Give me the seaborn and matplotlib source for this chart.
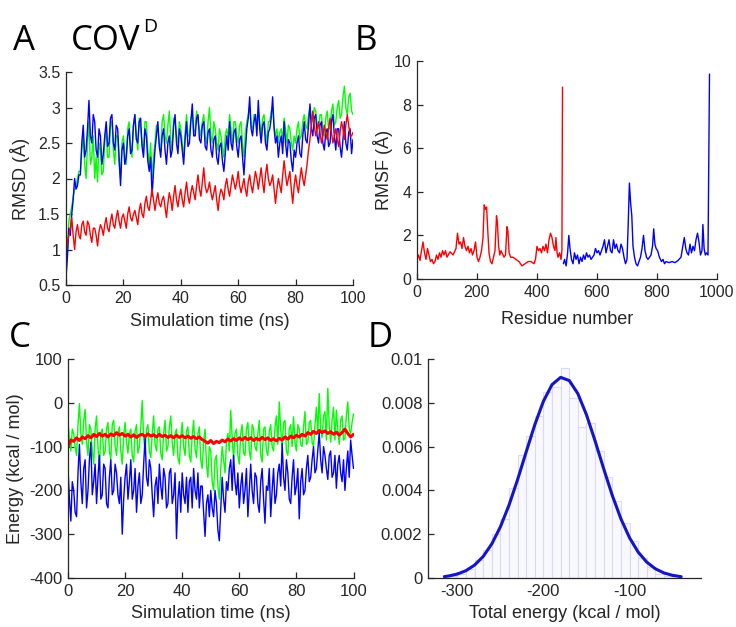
import numpy as np
import pandas as pd
import matplotlib
matplotlib.use('Agg')
import matplotlib.pyplot as plt
import seaborn as sns
from matplotlib.ticker import FuncFormatter

sns.set_theme(style='ticks')
plt.rcParams['font.family'] = ['Liberation Sans', 'DejaVu Sans']

# ---------------- Panel A: RMSD ----------------
# values at whole ns (0..100) and at the half-ns points in between (0.5..99.5)
time_ns = list(range(0, 101))
time_mid = [t + 0.5 for t in range(0, 100)]
rmsd_green = [0.7, 1.4, 1.6, 1.85, 2.0, 2.1, 2.6, 2.0, 2.8, 2.3, 2.0, 1.95, 2.4, 2.1, 2.7, 2.3, 2.8, 2.2, 2.6, 2.0,
              2.6, 2.2, 2.8, 2.3, 2.9, 2.4, 2.7, 2.35, 2.8, 2.2, 2.0, 2.5, 2.7, 2.4, 2.9, 2.5, 2.95, 2.4, 2.8, 2.5,
              2.7, 2.3, 2.9, 2.6, 2.9, 2.7, 2.8, 2.6, 2.9, 2.5, 3.0, 2.5, 2.7, 2.4, 2.6, 2.3, 2.7, 2.9, 2.5, 2.8,
              2.5, 2.8, 2.3, 2.8, 3.0, 2.7, 2.9, 2.95, 2.6, 2.9, 2.5, 2.8, 3.0, 2.6, 2.5, 2.7, 2.85, 2.5, 2.7, 2.4,
              2.5, 2.8, 2.6, 2.9, 2.7, 3.0, 2.8, 2.95, 2.7, 2.9, 2.6, 2.95, 2.7, 3.05, 2.8, 3.1, 2.9, 3.3, 2.9, 3.2,
              2.9]
rmsd_green_mid = [1.0, 1.5, 1.75, 1.9, 2.1, 2.4, 2.2, 2.5, 2.2, 2.6, 2.3, 2.5, 2.05, 2.5, 2.3, 2.75, 2.4, 2.6, 2.2, 2.5,
                  2.35, 2.7, 2.45, 2.75, 2.6, 2.85, 2.5, 2.8, 2.4, 2.5, 2.3, 2.75, 2.5, 2.8, 2.6, 2.75, 2.55, 2.85, 2.6, 2.8,
                  2.5, 2.65, 2.6, 2.85, 2.65, 2.95, 2.7, 2.8, 2.6, 2.8, 2.6, 2.8, 2.5, 2.7, 2.45, 2.6, 2.55, 2.7, 2.8, 2.6,
                  2.75, 2.5, 2.65, 2.9, 2.75, 2.9, 2.7, 2.8, 2.85, 2.65, 2.8, 2.95, 2.75, 2.7, 2.65, 2.55, 2.7, 2.75, 2.5, 2.6,
                  2.7, 2.55, 2.8, 2.75, 2.9, 2.85, 3.0, 2.75, 2.9, 2.7, 2.85, 2.7, 2.95, 2.75, 3.0, 2.85, 3.15, 3.0, 3.15, 2.95]
rmsd_blue = [0.6, 1.3, 1.5, 2.0, 1.9, 2.05, 2.75, 2.4, 3.1, 2.5, 2.8, 2.3, 2.6, 2.35, 2.8, 2.5, 2.9, 2.4, 2.7, 1.9,
             2.5, 2.3, 2.7, 2.4, 2.9, 2.5, 2.85, 2.3, 2.6, 2.1, 1.75, 2.4, 2.8, 2.3, 2.7, 2.2, 2.6, 2.4, 2.9, 2.35,
             2.6, 2.2, 2.8, 2.5, 3.05, 2.6, 2.9, 2.5, 2.8, 2.4, 2.7, 2.3, 2.6, 2.2, 2.5, 2.1, 2.6, 2.8, 2.4, 2.7,
             2.3, 2.6, 2.05, 2.7, 3.15, 2.6, 2.9, 3.1, 2.5, 2.8, 2.4, 2.7, 3.15, 2.5, 2.3, 2.6, 2.8, 2.3, 2.5, 2.1,
             2.3, 2.6, 2.3, 2.8, 2.5, 3.05, 2.6, 2.9, 2.5, 2.8, 2.4, 2.7, 2.5, 2.9, 2.4, 2.7, 2.3, 2.8, 2.4, 2.7,
             2.55]
rmsd_blue_mid = [0.9, 1.2, 1.7, 1.85, 2.05, 2.5, 2.3, 2.7, 2.6, 2.9, 2.4, 2.7, 2.2, 2.6, 2.45, 2.85, 2.5, 2.75, 2.3, 2.4,
                 2.2, 2.6, 2.35, 2.75, 2.55, 2.8, 2.45, 2.7, 2.25, 2.3, 2.1, 2.6, 2.45, 2.6, 2.4, 2.5, 2.3, 2.75, 2.5, 2.7,
                 2.4, 2.55, 2.45, 2.8, 2.6, 2.85, 2.55, 2.75, 2.45, 2.65, 2.4, 2.55, 2.3, 2.45, 2.25, 2.35, 2.4, 2.5, 2.65, 2.45,
                 2.55, 2.3, 2.4, 2.85, 2.7, 2.8, 2.6, 2.7, 2.75, 2.5, 2.65, 2.85, 2.7, 2.6, 2.5, 2.35, 2.5, 2.55, 2.25, 2.4,
                 2.5, 2.35, 2.6, 2.55, 2.75, 2.7, 2.85, 2.6, 2.75, 2.5, 2.65, 2.45, 2.8, 2.6, 2.7, 2.45, 2.55, 2.5, 2.65, 2.35]
rmsd_red = [1.0, 1.2, 1.45, 1.0, 1.35, 1.15, 1.4, 1.2, 1.35, 1.1, 1.3, 1.05, 1.35, 1.2, 1.45, 1.25, 1.5, 1.3, 1.55, 1.3,
            1.5, 1.3, 1.6, 1.4, 1.55, 1.35, 1.65, 1.45, 1.75, 1.55, 1.85, 1.55, 1.8, 1.6, 1.75, 1.45, 1.8, 1.55, 1.9, 1.6,
            1.85, 1.6, 1.95, 1.65, 1.9, 1.7, 2.05, 1.75, 2.15, 1.8, 1.95, 1.7, 1.9, 1.55, 1.85, 1.7, 2.0, 1.75, 2.05, 1.85,
            2.1, 1.8, 2.0, 1.75, 2.05, 1.8, 2.1, 1.85, 2.15, 1.8, 2.2, 1.9, 2.05, 1.65, 2.0, 1.8, 2.25, 1.9, 2.1, 1.65,
            2.05, 1.8, 2.15, 1.9, 2.2, 2.55, 2.95, 2.6, 2.8, 2.5, 2.75, 2.55, 2.85, 2.5, 2.7, 2.45, 2.8, 2.55, 2.9, 2.6,
            2.65]
rmsd_red_mid = [1.1, 1.3, 1.2, 1.25, 1.2, 1.35, 1.25, 1.4, 1.2, 1.3, 1.2, 1.25, 1.3, 1.35, 1.3, 1.4, 1.35, 1.45, 1.4, 1.45,
                1.4, 1.5, 1.45, 1.5, 1.45, 1.55, 1.5, 1.65, 1.6, 1.7, 1.7, 1.7, 1.65, 1.7, 1.6, 1.65, 1.7, 1.75, 1.7, 1.75,
                1.7, 1.8, 1.75, 1.8, 1.8, 1.9, 1.85, 1.95, 1.9, 1.85, 1.8, 1.8, 1.7, 1.75, 1.8, 1.9, 1.85, 1.9, 1.95, 1.95,
                1.9, 1.9, 1.85, 1.95, 1.9, 1.95, 2.0, 2.0, 1.95, 2.05, 2.0, 1.95, 1.85, 1.85, 1.9, 2.05, 2.05, 2.0, 1.85, 1.9,
                1.9, 2.0, 2.0, 2.05, 2.4, 2.75, 2.75, 2.7, 2.65, 2.6, 2.65, 2.7, 2.65, 2.6, 2.55, 2.65, 2.7, 2.75, 2.75, 2.6]

# ---------------- Panel B: RMSF per residue ----------------
res_red = [0, 5, 10, 15, 20, 25, 30, 35, 40, 45, 50, 55, 60, 65, 70, 75, 80, 85, 90, 95, 100, 110, 120, 130, 135,
           140, 145, 150, 155, 160, 165, 170, 175, 180, 185, 190, 195, 200, 205, 210, 215, 220, 224, 228, 232, 236,
           240, 245, 250, 255, 260, 265, 268, 272, 276, 280, 290, 295, 300, 303, 307, 312, 320, 330, 340, 350, 360,
           370, 380, 390, 395, 400, 405, 410, 415, 420, 425, 430, 435, 440, 445, 450, 455, 460, 463, 467, 470, 475,
           480, 483, 485]
rmsf_red = [0.9, 1.1, 0.85, 1.3, 1.7, 1.2, 0.9, 1.4, 1.1, 0.8, 0.9, 0.7, 0.8, 1.1, 0.9, 1.2, 1.0, 1.3, 1.1, 1.3, 1.0,
            1.25, 1.1, 1.4, 2.1, 1.6, 1.7, 1.4, 1.9, 1.5, 1.3, 1.5, 1.2, 1.4, 1.1, 1.3, 1.7, 1.0, 0.8, 1.0, 1.3, 1.9,
            3.4, 3.2, 3.3, 2.2, 1.2, 0.8, 0.7, 1.0, 1.3, 2.9, 2.6, 1.5, 1.1, 1.3, 1.0, 1.1, 2.4, 2.2, 1.2, 1.0, 1.0,
            0.9, 0.8, 0.6, 0.7, 0.8, 0.8, 0.7, 0.9, 1.5, 1.3, 1.4, 1.2, 1.5, 1.3, 1.6, 1.2, 1.8, 2.1, 1.9, 1.5, 1.3,
            1.9, 1.2, 1.0, 1.2, 0.9, 1.3, 8.8]
res_blue = [488, 492, 497, 502, 506, 510, 515, 520, 525, 530, 535, 540, 545, 550, 555, 560, 565, 570, 575, 580, 585,
            590, 595, 600, 605, 610, 615, 620, 625, 630, 635, 640, 645, 650, 655, 660, 665, 670, 675, 680, 685, 690,
            695, 700, 704, 708, 712, 716, 720, 725, 730, 735, 740, 745, 750, 755, 760, 765, 770, 775, 780, 785, 789,
            793, 797, 802, 808, 815, 820, 825, 830, 840, 850, 860, 870, 880, 886, 891, 896, 900, 905, 910, 915, 920,
            925, 930, 935, 940, 945, 950, 953, 957, 961, 965, 970, 975]
rmsf_blue = [0.7, 0.9, 0.6, 1.2, 2.0, 1.4, 0.9, 0.7, 1.2, 0.9, 1.1, 0.7, 1.0, 0.8, 1.1, 0.9, 1.2, 1.0, 1.1, 0.9, 1.0,
             1.1, 1.4, 1.2, 1.3, 1.1, 1.3, 1.5, 1.8, 1.2, 1.5, 1.8, 1.3, 1.2, 1.8, 1.4, 1.6, 1.3, 1.2, 1.6, 1.4, 1.0,
             0.7, 0.9, 2.5, 4.4, 3.5, 2.9, 1.5, 1.0, 0.7, 0.6, 0.8, 1.0, 1.4, 2.0, 1.3, 1.0, 0.9, 1.0, 1.1, 1.5, 2.3,
             1.6, 1.4, 1.3, 1.0, 0.8, 0.9, 0.7, 0.8, 0.75, 0.8, 0.75, 0.85, 1.0, 1.5, 1.9, 1.4, 1.2, 1.1, 1.6, 1.2,
             1.5, 1.3, 1.8, 2.1, 1.7, 1.1, 1.3, 2.5, 1.4, 1.1, 1.2, 1.1, 9.4]

# ---------------- Panel C: energies ----------------
energy_green = [-45, -110, -70, -120, -2, -95, -15, -120, -60, -140, -30, -150, -60, -110, -45, -130, -40, -120, -55, -140,
                -45, -115, -60, -135, -50, -100, 5, -110, -50, -125, -30, -110, -55, -130, -40, -100, -30, -120, -60, -140,
                -45, -120, -55, -135, -40, -125, -55, -150, -60, -170, -110, -200, -120, -220, -100, -160, -70, -17, -130, -60,
                -140, -50, -120, -45, -130, -60, -110, -40, -135, -55, -120, -50, -110, -30, 2, -100, -40, -120, -50, -32,
                -110, -60, -100, -20, -90, -40, -100, -10, 21, -80, -20, 33, -90, -10, -17, -95, -30, -80, 2, -70,
                -25]
energy_green_mid = [-80, -60, -100, -50, -70, -40, -90, -50, -110, -60, -100, -70, -120, -60, -110, -50, -100, -70, -110, -75,
                    -90, -70, -120, -65, -115, -55, -80, -60, -110, -70, -95, -60, -115, -70, -110, -55, -90, -70, -125, -80,
                    -100, -65, -120, -75, -105, -70, -130, -90, -140, -100, -180, -130, -190, -150, -130, -90, -110, -80, -70, -120,
                    -70, -115, -60, -110, -50, -100, -70, -120, -60, -110, -65, -100, -55, -95, -60, -45, -110, -60, -100, -90,
                    -50, -95, -55, -95, -45, -90, -50, -70, -60, -30, -85, -50, -40, -85, -60, -40, -85, -30, -60, -45]
energy_blue = [-150, -270, -200, -260, -95, -230, -130, -200, -90, -180, -230, -120, -210, -150, -240, -130, -200, -160, -230, -300,
               -170, -220, -130, -200, -250, -160, -210, -80, -190, -150, -260, -170, -140, -220, -170, -230, -150, -210, -310, -180,
               -160, -230, -250, -170, -150, -220, -240, -190, -305, -210, -200, -260, -230, -315, -170, -250, -200, -130, -120, -210,
               -240, -160, -200, -260, -140, -230, -170, -250, -150, -275, -200, -260, -150, -210, -140, -93, -200, -160, -230, -130,
               -190, -265, -150, -200, -120, -170, -100, -150, -67, -160, -120, -175, -110, -160, -195, -120, -180, -200, -110, -85,
               -150]
energy_blue_mid = [-220, -180, -250, -160, -180, -150, -240, -130, -210, -140, -170, -220, -140, -230, -170, -210, -140, -210, -170, -220,
                   -140, -180, -220, -150, -190, -230, -140, -170, -130, -210, -190, -230, -190, -150, -240, -160, -230, -160, -220, -250,
                   -210, -170, -180, -240, -200, -160, -190, -250, -230, -260, -240, -200, -290, -240, -220, -180, -150, -200, -180, -160,
                   -190, -230, -150, -200, -200, -160, -230, -180, -220, -190, -150, -200, -230, -160, -190, -170, -130, -220, -170, -210,
                   -150, -180, -210, -150, -180, -130, -160, -110, -130, -100, -150, -120, -170, -120, -140, -160, -130, -150, -170, -120]
energy_red = [-100, -85, -88, -80, -86, -78, -82, -75, -80, -72, -77, -70, -76, -72, -78, -71, -75, -68, -74, -70,
              -76, -72, -78, -73, -79, -74, -72, -77, -71, -76, -73, -78, -72, -77, -74, -79, -75, -80, -74, -79,
              -75, -80, -76, -81, -77, -82, -78, -84, -88, -92, -86, -93, -88, -91, -85, -89, -83, -87, -82, -86,
              -80, -85, -79, -84, -80, -86, -81, -85, -79, -84, -80, -86, -82, -87, -81, -85, -78, -83, -76, -80,
              -74, -78, -72, -76, -68, -72, -65, -70, -63, -68, -64, -70, -66, -72, -67, -74, -68, -60, -70, -78,
              -72]

# ---------------- Panel D: histogram + fitted curve ----------------
hist_bin_left = [-310, -300, -290, -280, -270, -260, -250, -240, -230, -220, -210, -200, -190, -180, -170, -160, -150,
                 -140, -130, -120, -110, -100, -90, -80, -70, -60]
hist_density = [0.0001, 0.0002, 0.0004, 0.0008, 0.0013, 0.0020, 0.0027, 0.0041, 0.0056, 0.0065, 0.0074, 0.0085, 0.0087,
                0.0096, 0.0082, 0.0069, 0.0071, 0.0058, 0.0046, 0.0035, 0.0025, 0.0017, 0.0009, 0.0005, 0.0002, 0.0001]
bin_width = 10
fit_x = [-315, -310, -300, -290, -280, -270, -260, -250, -240, -230, -220, -210, -200, -190, -180, -170, -160, -150,
         -140, -130, -120, -110, -100, -90, -80, -70, -60, -50, -40]
fit_y = [0.000064, 0.000092, 0.000180, 0.000333, 0.000587, 0.000980, 0.001552, 0.002331, 0.003321, 0.004488, 0.005755,
         0.006997, 0.008070, 0.008829, 0.009161, 0.009017, 0.008419, 0.007455, 0.006262, 0.004989, 0.003770, 0.002703,
         0.001838, 0.001185, 0.000725, 0.000421, 0.000231, 0.000121, 0.000060]

GREEN, BLUE, RED = '#00ff00', '#0000ff', '#ff0000'
TXT = '#262626'

W, H = 736, 627
fig = plt.figure(figsize=(W / 100, H / 100), dpi=100)
fig.patch.set_facecolor('white')


def add_ax(l, r, t, b):
    return fig.add_axes([l / W, 1 - b / H, (r - l) / W, (b - t) / H])


fmt = FuncFormatter(lambda v, p: f'{v:g}')


def style(ax, xlim, ylim, xticks, yticks, tsize=11.5):
    ax.set_xlim(xlim)
    ax.set_ylim(ylim)
    ax.set_xticks(xticks)
    ax.set_yticks(yticks)
    ax.xaxis.set_major_formatter(fmt)
    ax.yaxis.set_major_formatter(fmt)
    ax.set_facecolor('white')
    for s in ['top', 'right']:
        ax.spines[s].set_visible(False)
    for s in ['left', 'bottom']:
        ax.spines[s].set_color(TXT)
        ax.spines[s].set_linewidth(0.9)
    ax.tick_params(direction='in', length=4, width=0.9, color=TXT, labelcolor=TXT,
                   labelsize=tsize, pad=4)
    ax.grid(False)


def labels(ax, xlabel, ylabel, xy, yx, size=13):
    ax.set_xlabel(xlabel, fontsize=size, color=TXT, va='center')
    ax.xaxis.set_label_coords(0.5, xy)
    if ylabel:
        ax.set_ylabel(ylabel, fontsize=size, color=TXT, va='center')
        ax.yaxis.set_label_coords(yx, 0.5)


def series(t_whole, v_whole, t_half, v_half):
    df = pd.DataFrame({'t': list(t_whole) + list(t_half), 'v': list(v_whole) + list(v_half)})
    return df.sort_values('t')


# Panel A
axA = add_ax(66, 353, 72, 285)
for vals, mids, col in [(rmsd_green, rmsd_green_mid, GREEN), (rmsd_blue, rmsd_blue_mid, BLUE),
                        (rmsd_red, rmsd_red_mid, RED)]:
    d = series(time_ns, vals, time_mid, mids)
    sns.lineplot(data=d, x='t', y='v', color=col, linewidth=1.0, ax=axA)
style(axA, (0, 100), (0.5, 3.5), [0, 20, 40, 60, 80, 100], [0.5, 1, 1.5, 2, 2.5, 3, 3.5])
labels(axA, 'Simulation time (ns)', 'RMSD (Å)', (285 - 321) / 213, (20 - 66) / 287)

# Panel B
axB = add_ax(417, 717, 61, 279)
sns.lineplot(x=res_red, y=rmsf_red, color=RED, linewidth=1.0, ax=axB)
sns.lineplot(x=res_blue, y=rmsf_blue, color=BLUE, linewidth=1.0, ax=axB)
style(axB, (0, 1000), (0, 10), [0, 200, 400, 600, 800, 1000], [0, 2, 4, 6, 8, 10])
labels(axB, 'Residue number', 'RMSF (Å)', (279 - 319) / 218, (383 - 417) / 300)

# Panel C
axC = add_ax(68, 353.5, 359, 578)
for vals, mids, col in [(energy_green, energy_green_mid, GREEN), (energy_blue, energy_blue_mid, BLUE)]:
    d = series(time_ns, vals, time_mid, mids)
    sns.lineplot(data=d, x='t', y='v', color=col, linewidth=1.0, ax=axC)
sns.lineplot(x=time_ns, y=energy_red, color=RED, linewidth=2.2, ax=axC)
style(axC, (0, 100), (-400, 100), [0, 20, 40, 60, 80, 100], [-400, -300, -200, -100, 0, 100], tsize=12)
labels(axC, 'Simulation time (ns)', 'Energy (kcal / mol)', (578 - 613) / 219, (15 - 68) / 285.5)

# Panel D
axD = add_ax(428, 701, 359, 578)
centers = [b + bin_width / 2 for b in hist_bin_left]
edges = hist_bin_left + [hist_bin_left[-1] + bin_width]
sns.histplot(x=centers, weights=hist_density, bins=edges, stat='count', color='#f8f8fe',
             edgecolor='#dadaf7', linewidth=0.8, alpha=1.0, ax=axD)
sns.lineplot(x=fit_x, y=fit_y, color='#1414c8', linewidth=2.2, ax=axD)
style(axD, (-334, -17), (0, 0.01), [-300, -200, -100], [0, 0.002, 0.004, 0.006, 0.008, 0.01], tsize=12)
labels(axD, 'Total energy (kcal / mol)', None, (578 - 614) / 219, 0)
axD.set_ylabel('')

# Panel letters / title
tf = ['Open Sans', 'DejaVu Sans']
fig.text(13 / W, 1 - 50 / H, 'A', fontsize=25, family=tf, va='baseline', ha='left', color='black')
fig.text(71 / W, 1 - 50 / H, 'COV', fontsize=25, family=tf, va='baseline', ha='left', color='black')
fig.text(143 / W, 1 - 32 / H, 'D', fontsize=14, family=tf, va='baseline', ha='left', color='black')
fig.text(355 / W, 1 - 50 / H, 'B', fontsize=25, family=tf, va='baseline', ha='left', color='black')
fig.text(9 / W, 1 - 347 / H, 'C', fontsize=25, family=tf, va='baseline', ha='left', color='black')
fig.text(368 / W, 1 - 347 / H, 'D', fontsize=25, family=tf, va='baseline', ha='left', color='black')

fig.savefig('out.png', dpi=100, facecolor='white')
